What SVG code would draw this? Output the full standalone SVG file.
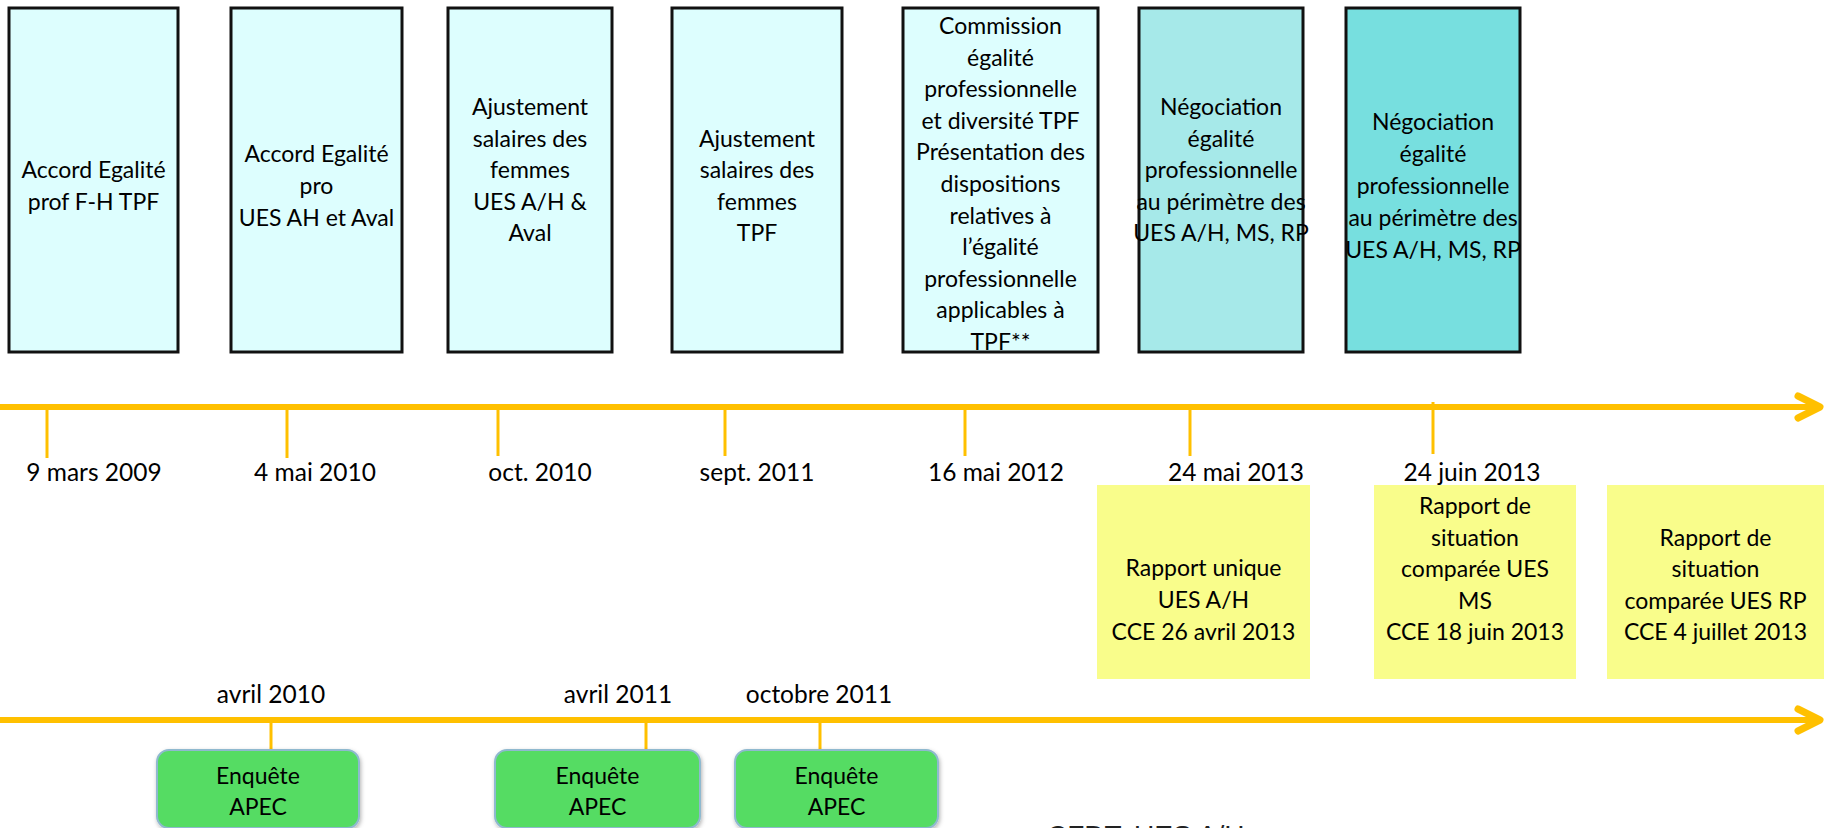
<svg xmlns="http://www.w3.org/2000/svg" width="1839" height="828" viewBox="0 0 1839 828">
<style>
.box{stroke:#111;stroke-width:3}
.c1{fill:#DDFEFE}.c2{fill:#A6E9E9}.c3{fill:#77DFDF}
.ybox{fill:#F9FD8B}
.gbox{fill:#55DC64;stroke:#8FB9CF;stroke-width:2}
.t{font-family:Lato,"Liberation Sans",sans-serif;font-size:23px;fill:#000;text-anchor:middle}
.lbl{font-family:Lato,"Liberation Sans",sans-serif;font-size:24.5px;fill:#000;text-anchor:middle}
.axis{stroke:#FFC000;stroke-width:6;fill:none}
.head{stroke:#FFC000;stroke-width:7;fill:none;stroke-linecap:round;stroke-linejoin:round}
.tick{stroke:#FFC000;stroke-width:3}
</style>
<defs>
<filter id="sh" x="-10%" y="-10%" width="130%" height="130%">
<feDropShadow dx="1" dy="2" stdDeviation="2" flood-color="#000" flood-opacity="0.3"/>
</filter>
</defs>
<rect width="1839" height="828" fill="#fff"/>

<g id="connectors">
<line class="axis" x1="0" y1="407" x2="1818" y2="407"/>
<polyline class="head" points="1798,396 1820,407 1798,418"/>
<line class="tick" x1="47" y1="410" x2="47" y2="458"/>
<line class="tick" x1="287" y1="410" x2="287" y2="458"/>
<line class="tick" x1="498" y1="410" x2="498" y2="456"/>
<line class="tick" x1="725" y1="410" x2="725" y2="456"/>
<line class="tick" x1="965" y1="410" x2="965" y2="456"/>
<line class="tick" x1="1190" y1="410" x2="1190" y2="456"/>
<line class="tick" x1="1433" y1="402" x2="1433" y2="454"/>
<line class="axis" x1="0" y1="720" x2="1818" y2="720"/>
<polyline class="head" points="1798,709 1820,720 1798,731"/>
<line class="tick" x1="271" y1="723" x2="271" y2="750"/>
<line class="tick" x1="646" y1="723" x2="646" y2="750"/>
<line class="tick" x1="820" y1="723" x2="820" y2="750"/>
</g>

<g id="box1"><rect class="box c1" x="9" y="8" width="169" height="344"/>
<text class="t"><tspan x="93.5" y="178">Accord Egalité</tspan><tspan x="93.5" y="210">prof F-H TPF</tspan></text></g>

<g id="box2"><rect class="box c1" x="231" y="8" width="171" height="344"/>
<text class="t"><tspan x="316.5" y="162">Accord Egalité</tspan><tspan x="316.5" y="194">pro</tspan><tspan x="316.5" y="226">UES AH et Aval</tspan></text></g>

<g id="box3"><rect class="box c1" x="448" y="8" width="164" height="344"/>
<text class="t"><tspan x="530" y="115">Ajustement</tspan><tspan x="530" y="146.5">salaires des</tspan><tspan x="530" y="178">femmes</tspan><tspan x="530" y="209.5">UES A/H &amp;</tspan><tspan x="530" y="241">Aval</tspan></text></g>

<g id="box4"><rect class="box c1" x="672" y="8" width="170" height="344"/>
<text class="t"><tspan x="757" y="146.5">Ajustement</tspan><tspan x="757" y="178">salaires des</tspan><tspan x="757" y="209.5">femmes</tspan><tspan x="757" y="241">TPF</tspan></text></g>

<g id="box5"><rect class="box c1" x="903" y="8" width="195" height="344"/>
<text class="t"><tspan x="1000.5" y="34">Commission</tspan><tspan x="1000.5" y="65.6">égalité</tspan><tspan x="1000.5" y="97.2">professionnelle</tspan><tspan x="1000.5" y="128.8">et diversité  TPF</tspan><tspan x="1000.5" y="160.4">Présentation des</tspan><tspan x="1000.5" y="192">dispositions</tspan><tspan x="1000.5" y="223.6">relatives à</tspan><tspan x="1000.5" y="255.2">l’égalité</tspan><tspan x="1000.5" y="286.8">professionnelle</tspan><tspan x="1000.5" y="318.4">applicables à</tspan><tspan x="1000.5" y="350">TPF**</tspan></text></g>

<g id="box6"><rect class="box c2" x="1139" y="8" width="164" height="344"/>
<text class="t"><tspan x="1221" y="115">Négociation</tspan><tspan x="1221" y="146.5">égalité</tspan><tspan x="1221" y="178">professionnelle</tspan><tspan x="1221" y="209.5">au périmètre des</tspan><tspan x="1221" y="241">UES A/H, MS, RP</tspan></text></g>

<g id="box7"><rect class="box c3" x="1346" y="8" width="174" height="344"/>
<text class="t"><tspan x="1433" y="130">Négociation</tspan><tspan x="1433" y="162">égalité</tspan><tspan x="1433" y="194">professionnelle</tspan><tspan x="1433" y="226">au périmètre des</tspan><tspan x="1433" y="258">UES A/H, MS, RP</tspan></text></g>

<g id="dates-top">
<text class="lbl" x="94" y="481">9 mars 2009</text>
<text class="lbl" x="315" y="481">4 mai 2010</text>
<text class="lbl" x="540" y="481">oct. 2010</text>
<text class="lbl" x="757" y="481">sept. 2011</text>
<text class="lbl" x="996" y="481">16 mai 2012</text>
<text class="lbl" x="1236" y="481">24 mai 2013</text>
<text class="lbl" x="1472" y="481">24 juin 2013</text>
</g>

<g id="rapportA"><rect class="ybox" x="1097" y="485" width="213" height="194"/>
<text class="t"><tspan x="1203.5" y="576">Rapport unique</tspan><tspan x="1203.5" y="608">UES A/H</tspan><tspan x="1203.5" y="640">CCE 26 avril 2013</tspan></text></g>

<g id="rapportB"><rect class="ybox" x="1374" y="485" width="202" height="194"/>
<text class="t"><tspan x="1475" y="514">Rapport de</tspan><tspan x="1475" y="545.5">situation</tspan><tspan x="1475" y="577">comparée UES</tspan><tspan x="1475" y="608.5">MS</tspan><tspan x="1475" y="640">CCE 18 juin 2013</tspan></text></g>

<g id="rapportC"><rect class="ybox" x="1607" y="485" width="217" height="194"/>
<text class="t"><tspan x="1715.5" y="545.5">Rapport de</tspan><tspan x="1715.5" y="577">situation</tspan><tspan x="1715.5" y="608.5">comparée UES RP</tspan><tspan x="1715.5" y="640">CCE 4 juillet  2013</tspan></text></g>

<g id="dates-bottom">
<text class="lbl" x="271" y="703">avril 2010</text>
<text class="lbl" x="618" y="703">avril 2011</text>
<text class="lbl" x="819" y="703">octobre 2011</text>
</g>

<g id="apec1"><rect class="gbox" filter="url(#sh)" x="157" y="750" width="202" height="78" rx="12"/>
<text class="t"><tspan x="258" y="784">Enquête</tspan><tspan x="258" y="815">APEC</tspan></text></g>
<g id="apec2"><rect class="gbox" filter="url(#sh)" x="495" y="750" width="205" height="78" rx="12"/>
<text class="t"><tspan x="597.5" y="784">Enquête</tspan><tspan x="597.5" y="815">APEC</tspan></text></g>
<g id="apec3"><rect class="gbox" filter="url(#sh)" x="735" y="750" width="203" height="78" rx="12"/>
<text class="t"><tspan x="836.5" y="784">Enquête</tspan><tspan x="836.5" y="815">APEC</tspan></text></g>

<g id="footer"><text x="1047" y="845" font-family="'Liberation Sans',sans-serif" font-size="28" fill="#222">CFDT: UES A/H</text></g>
</svg>
